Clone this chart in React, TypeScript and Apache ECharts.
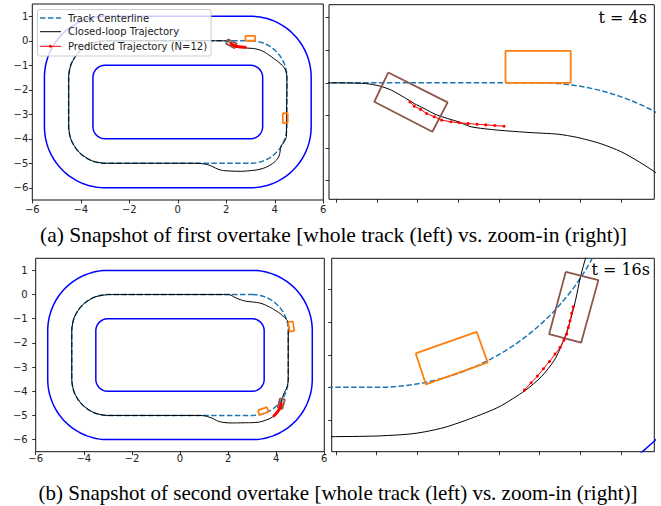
import React, { useEffect, useRef } from 'react';
import * as echarts from 'echarts';

type P = [number, number];

// ---------- tick values ----------
const X_TICKS_WHOLE = [-6, -4, -2, 0, 2, 4, 6];
const Y_TICKS_WHOLE = [-6, -5, -4, -3, -2, -1, 0, 1];
const X_TICKS_ZOOM_A = [1.75, 2, 2.25, 2.5, 2.75, 3, 3.25, 3.5];
const Y_TICKS_ZOOM_A = [-0.6, -0.4, -0.2, 0, 0.2, 0.4];
const X_TICKS_ZOOM_B = [2.75, 3, 3.25, 3.5, 3.75, 4, 4.25, 4.5];
const Y_TICKS_ZOOM_B = [-5.2, -5, -4.8, -4.6, -4.4];

// ---------- track geometry ----------
const TRACK_CORNER_X = [-3, 3];
const TRACK_CORNER_Y = [-3.5, -1.5];
const CENTER_RADIUS = 1.5;
const HALF_WIDTH = 1;

// ---------- snapshot (a): t = 4s ----------
const A_CLOSED_LOOP: P[] = [
  [-3, 0], [-1, 0], [1, 0], [1.4, 0], [1.7, 0], [1.93, -0.004], [2.02, -0.02], [2.09, -0.045],
  [2.17, -0.09], [2.23, -0.127], [2.29, -0.157], [2.37, -0.198], [2.5, -0.239], [2.58, -0.27],
  [2.74, -0.29], [2.94, -0.305], [3.11, -0.315], [3.23, -0.335], [3.37, -0.372], [3.5, -0.423],
  [3.61, -0.485], [3.69, -0.536], [3.8, -0.61], [3.95, -0.72], [4.1, -0.83], [4.25, -0.95],
  [4.37, -1.08], [4.45, -1.22], [4.49, -1.4], [4.5, -1.7], [4.49, -2.5], [4.48, -3.2],
  [4.48, -3.9], [4.4, -4.1], [4.26, -4.3], [4.22, -4.5], [4.18, -4.7], [4.06, -4.88],
  [3.85, -5.05], [3.6, -5.18], [3.27, -5.27], [2.9, -5.31], [2.58, -5.33], [1.89, -5.3],
  [1.65, -5.24], [1.48, -5.16], [1.3, -5.08], [1.14, -5.04], [0.8, -5.0], [-1, -5], [-3, -5],
  [-3.57, -4.89], [-4.06, -4.56], [-4.39, -4.07], [-4.5, -3.5], [-4.5, -1.5], [-4.39, -0.93],
  [-4.06, -0.44], [-3.57, -0.11], [-3, 0],
];
const A_PREDICTED: P[] = [
  [2.204, -0.117], [2.23, -0.143], [2.269, -0.163], [2.306, -0.188], [2.353, -0.208],
  [2.398, -0.229], [2.455, -0.239], [2.506, -0.245], [2.561, -0.25], [2.616, -0.254],
  [2.669, -0.258], [2.724, -0.262], [2.781, -0.266],
];
const A_EGO: P[] = [[2.071, 0.064], [2.435, -0.12], [2.341, -0.3], [1.985, -0.116]];
const A_OPPONENT_1: P[] = [[2.79, 0], [3.19, 0], [3.19, 0.196], [2.79, 0.196]];
const A_OPPONENT_2: P[] = [[4.33, -2.96], [4.53, -2.96], [4.53, -3.36], [4.33, -3.36]];

// ---------- snapshot (b): t = 16s ----------
const B_CLOSED_LOOP: P[] = [
  [-3, 0], [-1, 0], [1, 0], [1.8, 0], [2.08, -0.01], [2.25, -0.1], [2.42, -0.18], [2.6, -0.24],
  [2.77, -0.28], [3.05, -0.31], [3.32, -0.35], [3.5, -0.41], [3.67, -0.49], [3.85, -0.58],
  [4.02, -0.69], [4.17, -0.79], [4.29, -0.9], [4.4, -1.0], [4.46, -1.07], [4.51, -1.2],
  [4.52, -1.35], [4.5, -1.6], [4.5, -2.5], [4.5, -3.5], [4.47, -3.75], [4.42, -3.9],
  [4.34, -4.05], [4.29, -4.18], [4.25, -4.322], [4.22, -4.465], [4.177, -4.628], [4.13, -4.751],
  [4.09, -4.833], [4.01, -4.935], [3.91, -5.02], [3.75, -5.12], [3.58, -5.19], [3.42, -5.245],
  [3.3, -5.272], [3.2, -5.287], [2.99, -5.299], [2.72, -5.303], [2.3, -5.31], [2.08, -5.31],
  [1.75, -5.28], [1.52, -5.21], [1.38, -5.13], [1.24, -5.08], [1.05, -5.02], [0.83, -5.0],
  [-1, -5], [-3, -5], [-3.57, -4.89], [-4.06, -4.56], [-4.39, -4.07], [-4.5, -3.5],
  [-4.5, -1.5], [-4.39, -0.93], [-4.06, -0.44], [-3.57, -0.11], [-3, 0],
];
const B_PREDICTED: P[] = [
  [4.206, -4.505], [4.196, -4.546], [4.186, -4.591], [4.176, -4.632], [4.166, -4.673],
  [4.149, -4.71], [4.125, -4.755], [4.094, -4.796], [4.06, -4.841], [4.023, -4.886],
  [3.986, -4.931], [3.947, -4.972], [3.906, -5.017],
];
const B_EGO: P[] = [[4.16, -4.291], [4.36, -4.342], [4.254, -4.726], [4.058, -4.673]];
const B_OPPONENT_1: P[] = [[3.239, -4.791], [3.613, -4.659], [3.681, -4.847], [3.302, -4.982]];
const B_OPPONENT_2: P[] = [[4.494, -1.139], [4.692, -1.107], [4.756, -1.501], [4.558, -1.533]];

// ---------- helpers ----------
function roundedLoop(r: number): P[] {
  const [xl, xr] = TRACK_CORNER_X;
  const [yb, yt] = TRACK_CORNER_Y;
  const corners = [
    { cx: xr, cy: yt, a0: 90, a1: 0 },
    { cx: xr, cy: yb, a0: 0, a1: -90 },
    { cx: xl, cy: yb, a0: -90, a1: -180 },
    { cx: xl, cy: yt, a0: 180, a1: 90 },
  ];
  const pts: P[] = [];
  const n = 40;
  for (const c of corners) {
    for (let i = 0; i <= n; i++) {
      const a = ((c.a0 + ((c.a1 - c.a0) * i) / n) * Math.PI) / 180;
      pts.push([c.cx + r * Math.cos(a), c.cy + r * Math.sin(a)]);
    }
  }
  pts.push(pts[0]);
  return pts;
}
const close = (b: P[]): P[] => [...b, b[0]];
const minusFmt = (v: number) => (v < 0 ? '\u2212' + Math.abs(v) : String(v));

const OUTER = roundedLoop(CENTER_RADIUS + HALF_WIDTH);
const INNER = roundedLoop(CENTER_RADIUS - HALF_WIDTH);
const CENTER = roundedLoop(CENTER_RADIUS);

const BLUE = '#0000ff';
const CENTER_COLOR = '#1f77b4';
const ORANGE = '#ff7f0e';
const BROWN = '#8c564b';
const RED = '#ff0000';

interface Snap {
  closed: P[];
  pred: P[];
  ego: P[];
  opp: P[][];
}
const SNAP_A: Snap = { closed: A_CLOSED_LOOP, pred: A_PREDICTED, ego: A_EGO, opp: [A_OPPONENT_1, A_OPPONENT_2] };
const SNAP_B: Snap = { closed: B_CLOSED_LOOP, pred: B_PREDICTED, ego: B_EGO, opp: [B_OPPONENT_1, B_OPPONENT_2] };

function panelSeries(gi: number, s: Snap): any[] {
  const base = {
    type: 'line',
    xAxisIndex: gi,
    yAxisIndex: gi,
    symbol: 'none',
    clip: true,
    silent: true,
  };
  const out: any[] = [
    { ...base, name: 'Track Outer', data: OUTER, lineStyle: { color: BLUE, width: 1.5 } },
    { ...base, name: 'Track Inner', data: INNER, lineStyle: { color: BLUE, width: 1.5 } },
    { ...base, name: 'Track Centerline', data: CENTER, lineStyle: { color: CENTER_COLOR, width: 1.5, type: [5.5, 2.4] } },
    { ...base, name: 'Closed-loop Trajectory', data: s.closed, smooth: 0.25, lineStyle: { color: '#000', width: 1 } },
  ];
  s.opp.forEach((b, i) =>
    out.push({ ...base, name: 'Opponent ' + (i + 1), data: close(b), lineStyle: { color: ORANGE, width: 1.8 } })
  );
  out.push({ ...base, name: 'Ego', data: close(s.ego), lineStyle: { color: BROWN, width: 1.8 } });
  out.push({
    ...base,
    name: 'Predicted Trajectory (N=12)',
    data: s.pred,
    symbol: 'circle',
    symbolSize: 3,
    showAllSymbol: true,
    itemStyle: { color: RED },
    lineStyle: { color: RED, width: 1 },
  });
  return out;
}

const tickStyle = { color: '#000', width: 0.8 };

function wholeX(gi: number, margin: number) {
  return {
    type: 'value', gridIndex: gi, min: -6, max: 6,
    axisLine: { show: false, onZero: false }, splitLine: { show: false },
    axisTick: { show: true, length: 3.5, customValues: X_TICKS_WHOLE, lineStyle: tickStyle },
    axisLabel: { show: true, customValues: X_TICKS_WHOLE, formatter: minusFmt, fontFamily: 'DejaVu Sans', fontSize: 10, color: '#222', margin },
  };
}
function wholeY(gi: number, margin: number) {
  return {
    type: 'value', gridIndex: gi, min: -6.5, max: 1.5,
    axisLine: { show: false, onZero: false }, splitLine: { show: false },
    axisTick: { show: true, length: 3.5, customValues: Y_TICKS_WHOLE, lineStyle: tickStyle },
    axisLabel: { show: true, customValues: Y_TICKS_WHOLE, formatter: minusFmt, fontFamily: 'DejaVu Sans', fontSize: 10, color: '#222', margin },
  };
}
function zoomAxis(gi: number, min: number, max: number, ticks: number[]) {
  return {
    type: 'value', gridIndex: gi, min, max,
    axisLine: { show: false, onZero: false }, splitLine: { show: false },
    axisTick: { show: true, length: 3.5, customValues: ticks, lineStyle: tickStyle },
    axisLabel: { show: false },
  };
}

const gridStyle = { show: true, borderColor: '#111', borderWidth: 1, backgroundColor: '#fff', containLabel: false };

const textStyle = (text: string, font: string, size: number, align: string) => ({
  text, fontFamily: font, fontSize: size, fill: '#000', align, verticalAlign: 'middle',
});

export default function App() {
  const ref = useRef<HTMLDivElement>(null);
  useEffect(() => {
    if (!ref.current) return;
    const chart = echarts.init(ref.current, undefined, { renderer: 'svg' });
    const legendY = [18, 31.7, 46.3];
    chart.setOption({
      animation: false,
      backgroundColor: '#fff',
      grid: [
        { ...gridStyle, left: 32.3, top: 4, width: 291, height: 196 },
        { ...gridStyle, left: 329, top: 4.7, width: 325.3, height: 194.6 },
        { ...gridStyle, left: 35.7, top: 258.3, width: 288.6, height: 193.4 },
        { ...gridStyle, left: 331.7, top: 258.3, width: 322.6, height: 193.4 },
      ],
      xAxis: [
        wholeX(0, 4),
        zoomAxis(1, 1.707, 3.703, X_TICKS_ZOOM_A),
        wholeX(2, 2),
        zoomAxis(3, 2.724, 4.703, X_TICKS_ZOOM_B),
      ],
      yAxis: [
        wholeY(0, 4),
        zoomAxis(1, -0.715, 0.48, Y_TICKS_ZOOM_A),
        wholeY(2, 8),
        zoomAxis(3, -5.395, -4.208, Y_TICKS_ZOOM_B),
      ],
      series: [
        ...panelSeries(0, SNAP_A),
        ...panelSeries(1, SNAP_A),
        ...panelSeries(2, SNAP_B),
        ...panelSeries(3, SNAP_B),
      ],
      graphic: [
        {
          type: 'rect', z: 100,
          shape: { x: 37.5, y: 9.5, width: 173.5, height: 46.5, r: 2 },
          style: { fill: 'rgba(255,255,255,0.8)', stroke: '#cccccc', lineWidth: 1 },
        },
        { type: 'line', z: 101, shape: { x1: 40, y1: legendY[0], x2: 61, y2: legendY[0] }, style: { stroke: CENTER_COLOR, lineWidth: 1.5, lineDash: [5.5, 2.4] } },
        { type: 'line', z: 101, shape: { x1: 40, y1: legendY[1], x2: 61, y2: legendY[1] }, style: { stroke: '#000', lineWidth: 1 } },
        { type: 'line', z: 101, shape: { x1: 40, y1: legendY[2], x2: 61, y2: legendY[2] }, style: { stroke: RED, lineWidth: 1 } },
        { type: 'circle', z: 101, shape: { cx: 50.5, cy: legendY[2], r: 1.5 }, style: { fill: RED } },
        { type: 'text', z: 101, x: 68, y: legendY[0], style: { ...textStyle('Track Centerline', 'DejaVu Sans', 10, 'left'), fill: '#222' } },
        { type: 'text', z: 101, x: 68, y: legendY[1], style: { ...textStyle('Closed-loop Trajectory', 'DejaVu Sans', 10, 'left'), fill: '#222' } },
        { type: 'text', z: 101, x: 68, y: legendY[2], style: { ...textStyle('Predicted Trajectory (N=12)', 'DejaVu Sans', 10, 'left'), fill: '#222' } },
        { type: 'text', z: 101, x: 647, y: 17.5, style: textStyle('t = 4s', 'DejaVu Serif', 16, 'right') },
        { type: 'text', z: 101, x: 650, y: 269.5, style: textStyle('t = 16s', 'DejaVu Serif', 16, 'right') },
        { type: 'text', z: 101, x: 333.5, y: 234.5, style: textStyle('(a) Snapshot of first overtake [whole track (left) vs. zoom-in (right)]', 'Liberation Serif', 21.5, 'center') },
        { type: 'text', z: 101, x: 338, y: 492.5, style: textStyle('(b) Snapshot of second overtake [whole track (left) vs. zoom-in (right)]', 'Liberation Serif', 21, 'center') },
      ],
    });
    return () => chart.dispose();
  }, []);
  return (
    <div
      ref={ref}
      style={{ position: 'fixed', left: 0, top: 0, width: 661, height: 506, background: '#fff' }}
    />
  );
}
